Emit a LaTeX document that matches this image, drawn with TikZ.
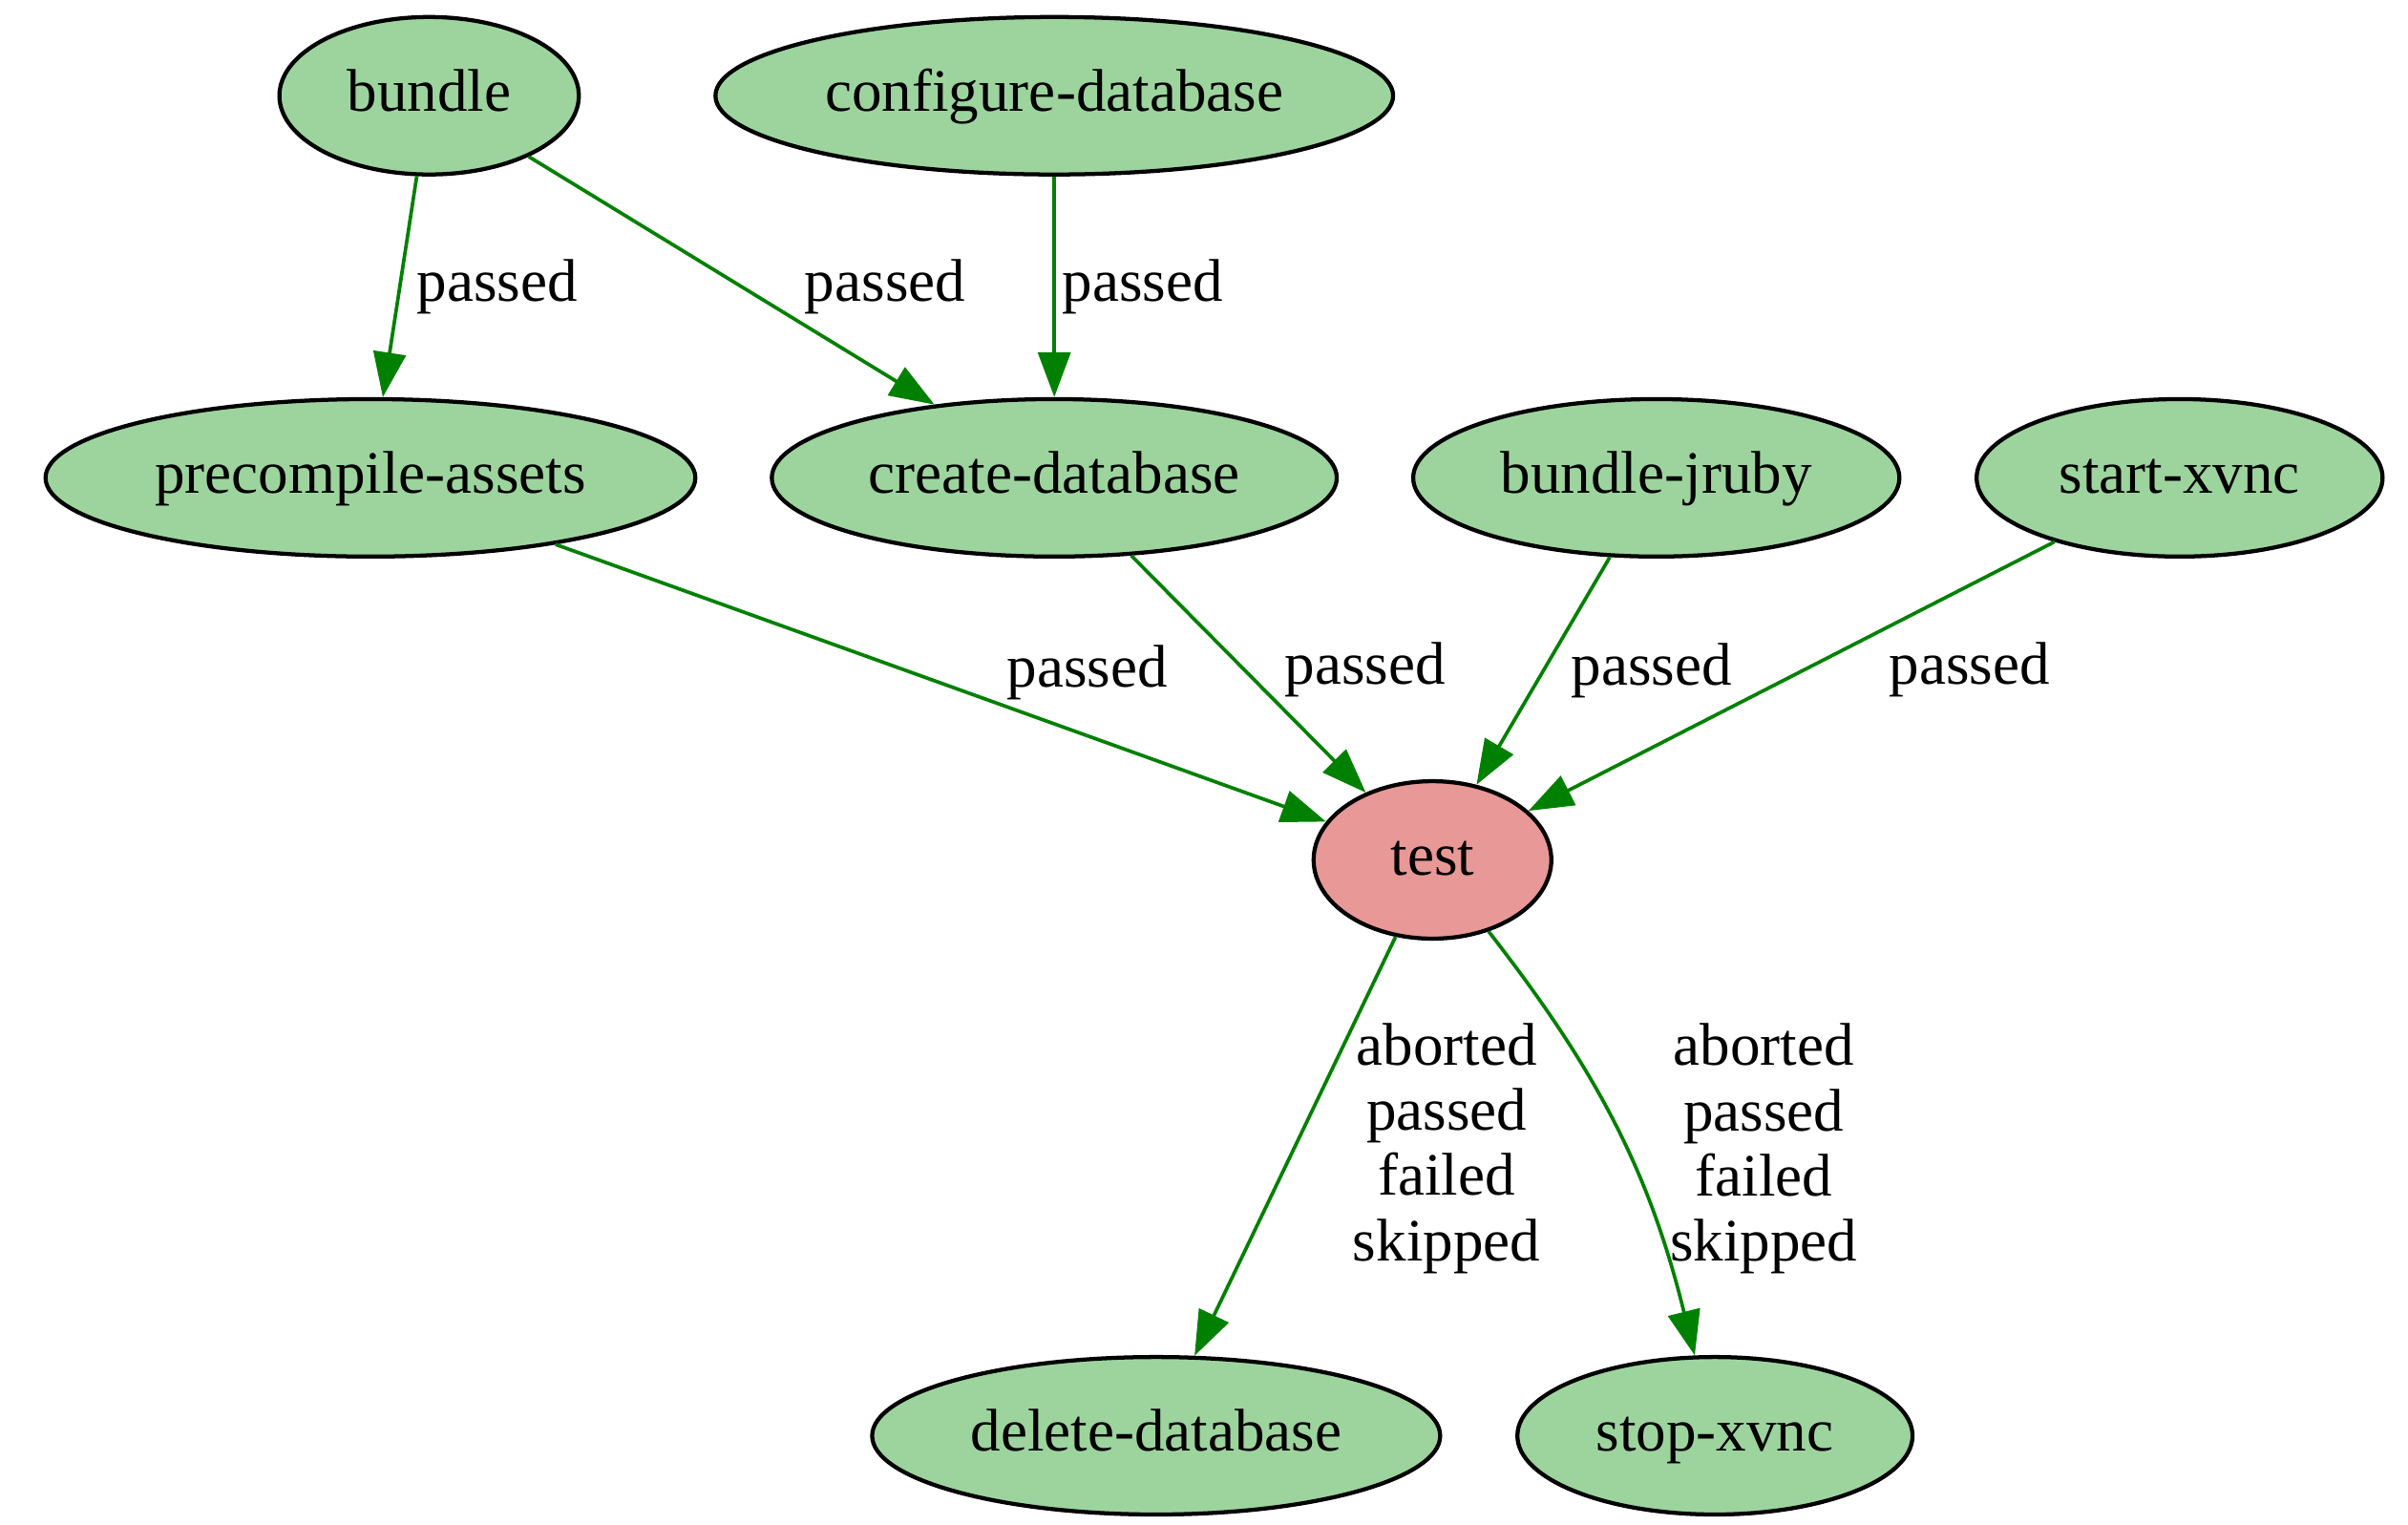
\documentclass[tikz,border=0pt]{standalone}
\usepackage{fontspec}
\setmainfont{Liberation Serif}
\usetikzlibrary{shapes.geometric,arrows.meta}
\definecolor{jobgreen}{RGB}{157,212,158}
\definecolor{jobred}{RGB}{232,152,150}
\definecolor{edgegreen}{RGB}{0,128,0}

\begin{document}
\begin{tikzpicture}[
    font=\fontsize{11.1}{12}\selectfont,
    inner sep=0pt,
    job/.style={ellipse,draw,line width=0.75pt,fill=jobgreen,minimum height=1.02cm,text height=8.3pt,text depth=2.6pt},
    dep/.style={-{Triangle[length=0.29cm,width=0.21cm]},draw=edgegreen,line width=0.65pt}
  ]
  \useasboundingbox (0,0) rectangle (15.60,-9.872);

  \node[job,minimum width=1.94cm] (bundle) at (2.78,-0.62) {bundle};
  \node[job,minimum width=4.39cm] (confdb) at (6.83,-0.62) {configure-database};
  \node[job,minimum width=4.21cm] (precomp) at (2.40,-3.095) {precompile-assets};
  \node[job,minimum width=3.66cm] (createdb) at (6.83,-3.095) {create-database};
  \node[job,minimum width=3.15cm] (jruby) at (10.73,-3.095) {bundle-jruby};
  \node[job,minimum width=2.63cm] (xvnc) at (14.12,-3.095) {start-xvnc};
  \node[job,fill=jobred,minimum width=1.54cm] (test) at (9.28,-5.57) {test};
  \node[job,minimum width=3.68cm] (deletedb) at (7.49,-9.30) {delete-database};
  \node[job,minimum width=2.56cm] (stopxvnc) at (11.11,-9.30) {stop-xvnc};

  \draw[dep] (bundle) to node[pos=0.5,right=0.1cm] {passed} (precomp);
  \draw[dep] (bundle) to node[pos=0.524,right=0.4cm] {passed} (createdb);
  \draw[dep] (confdb) to node[pos=0.5,right=0.04cm] {passed} (createdb);
  \draw[dep] (precomp) to node[pos=0.69,above=0.22cm] {passed} (test);
  \draw[dep] (createdb) to node[pos=0.483,right=0.25cm] {passed} (test);
  \draw[dep] (jruby) to node[pos=0.5,right=0.17cm] {passed} (test);
  \draw[dep] (xvnc) to node[pos=0.476,right=0.54cm] {passed} (test);
  \draw[dep] (test) to node[pos=0.505,right=0.37cm,align=center] {aborted\\passed\\failed\\skipped} (deletedb);
  \draw[dep] (test) to[bend left=12] node[pos=0.545,right=0.275cm,align=center] {aborted\\passed\\failed\\skipped} (stopxvnc);
\end{tikzpicture}
\end{document}
